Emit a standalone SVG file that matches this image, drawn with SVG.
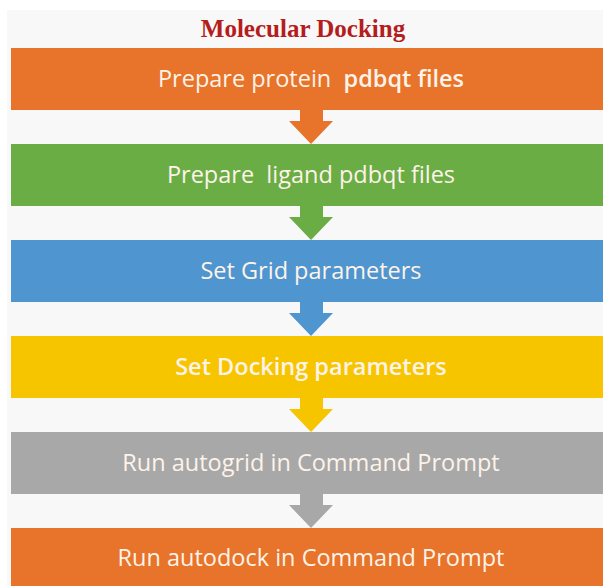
<svg xmlns="http://www.w3.org/2000/svg" width="603" height="586" viewBox="0 0 603 586">
<style>
.lbl{font-family:"Open Sans","Noto Sans",sans-serif;font-size:23.5px;fill:#fdf3e8;text-anchor:middle;white-space:pre}
.b{font-weight:600}
.title{font-family:"Liberation Serif",serif;font-weight:bold;font-size:25px;fill:#b51d1d;text-anchor:middle}
</style>
<rect x="0" y="0" width="603" height="586" fill="#ffffff"/>
<rect x="7" y="10" width="596" height="576" fill="#f8f8f8"/>
<text class="title" x="303" y="37">Molecular Docking</text>
<g id="connectors">
<polygon points="300,110 323,110 323,121 333,121 311,144 289,121 300,121" fill="#e8732a"/>
<polygon points="300,206 323,206 323,217 333,217 311,240 289,217 300,217" fill="#6aad45"/>
<polygon points="300,302 323,302 323,313 333,313 311,336 289,313 300,313" fill="#4f95d0"/>
<polygon points="300,398 323,398 323,409 333,409 311,432 289,409 300,409" fill="#f6c500"/>
<polygon points="300,494 323,494 323,505 333,505 311,528 289,505 300,505" fill="#a8a8a8"/>
</g>
<g id="n1"><rect x="11" y="48" width="592" height="62" fill="#e8732a"/><text class="lbl" x="311" y="87" xml:space="preserve">Prepare protein  <tspan class="b">pdbqt files</tspan></text></g>
<g id="n2"><rect x="11" y="144" width="592" height="62" fill="#6aad45"/><text class="lbl" x="311" y="183" xml:space="preserve">Prepare  ligand pdbqt files</text></g>
<g id="n3"><rect x="11" y="240" width="592" height="62" fill="#4f95d0"/><text class="lbl" x="311" y="279">Set Grid parameters</text></g>
<g id="n4"><rect x="11" y="336" width="592" height="62" fill="#f6c500"/><text class="lbl b" x="311" y="375">Set Docking parameters</text></g>
<g id="n5"><rect x="11" y="432" width="592" height="62" fill="#a8a8a8"/><text class="lbl" x="311" y="471">Run autogrid in Command Prompt</text></g>
<g id="n6"><rect x="11" y="528" width="592" height="58" fill="#e8732a"/><text class="lbl" x="311" y="566">Run autodock in Command Prompt</text></g>
</svg>
